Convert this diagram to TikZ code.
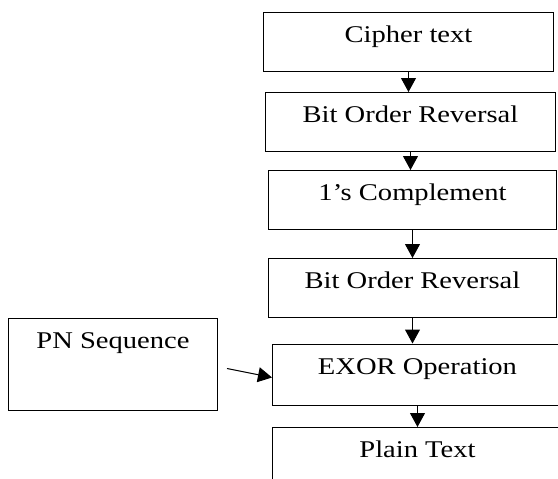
\documentclass[tikz,border=0pt]{standalone}
\usepackage{fontspec}
\setmainfont{Liberation Serif}
\newfontfamily\boxfont[FakeStretch=1.19]{Liberation Serif}
\usetikzlibrary{arrows.meta,positioning}
\tikzset{
	stage/.style={draw, line width=1pt, anchor=north west, inner xsep=0pt, inner ysep=0pt,
		text height=30pt, text depth=29pt, minimum width=#1,
		font=\boxfont\fontsize{24}{28}\selectfont},
	stage/.default=290pt,
	flow/.style={-{Triangle[length=14pt,width=15pt]}, line width=1pt}
}

\begin{document}
\begin{tikzpicture}[x=1pt, y=-1pt]
			%%%%% START %%%%%
			
			\useasboundingbox (0, 0) rectangle (558, 479);
			
			\node[stage] (cipher) at (263, 11.5) {Cipher text};
			\node[stage] (rev1) at (265, 92) {Bit Order Reversal};
			\node[stage=288pt] (compl) at (268, 170) {1’s Complement};
			\node[stage=288pt] (rev2) at (268, 258) {Bit Order Reversal};
			\node[stage, text depth=31pt] (exor) at (272, 343.5) {EXOR Operation};
			\node[stage] (plain) at (272, 427) {Plain Text};
			
			\node[stage=209pt, text depth=62pt] (pn) at (8, 318) {PN Sequence};
			
			\draw[flow] (cipher.south) -- (cipher.south |- rev1.north);
			\draw[flow] (rev1.south) -- (rev1.south |- compl.north);
			\draw[flow] (compl.south) -- (compl.south |- rev2.north);
			\draw[flow] (rev2.south) -- (rev2.south |- exor.north);
			\draw[flow] (exor.south) -- (exor.south |- plain.north);
			
			\coordinate (pnout) at ([xshift=9pt, yshift=-4pt]pn.east);
			\draw[flow] (pnout) -- ([yshift=-3pt]exor.west);
			
			%%%%% END %%%%%
\end{tikzpicture}
\end{document}
